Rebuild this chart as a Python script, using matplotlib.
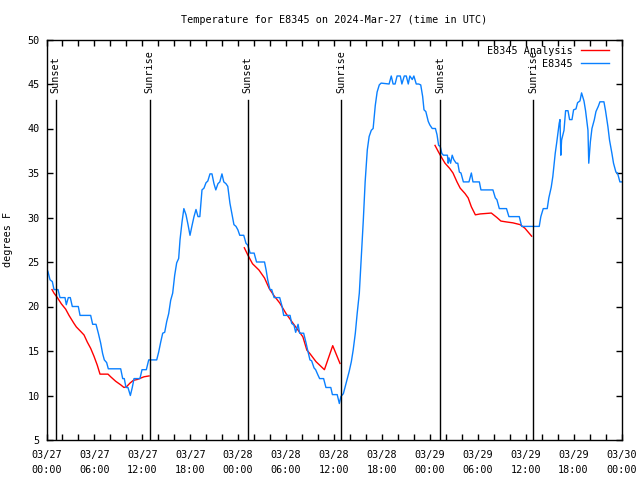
import numpy as np
import matplotlib
matplotlib.use("Agg")
import matplotlib.pyplot as plt

# Observed temperature for E8345 (hours since 2024-03-27 00:00 UTC, deg F)
obs_hours = [0.0, 0.19, 0.44, 0.73, 0.94, 1.44, 1.69, 2.32, 2.48, 2.73, 2.98, 3.23, 3.98, 4.2,
             5.53, 5.78, 6.2, 6.49, 6.78, 7.03, 7.24, 7.53, 7.74, 9.29, 9.54, 9.74, 9.95, 10.2,
             10.5, 10.74, 10.96, 11.7, 11.96, 12.5, 12.8, 13.8, 14.05, 14.3, 14.55, 14.8, 15.05,
             15.3, 15.55, 15.8, 16.05, 16.3, 16.55, 16.72, 16.97, 17.2, 17.47, 17.72, 17.97,
             18.2, 18.47, 18.72, 18.97, 19.2, 19.47, 19.72, 19.97, 20.2, 20.47, 20.72, 20.97,
             21.2, 21.47, 21.7, 21.97, 22.2, 22.47, 22.7, 22.97, 23.2, 23.47, 23.73, 23.97,
             24.2, 24.7, 24.98, 25.2, 25.5, 26.0, 26.3, 27.3, 27.5, 27.7, 27.98, 28.2, 28.5,
             29.2, 29.5, 29.7, 30.5, 30.7, 30.99, 31.2, 31.5, 31.7, 32.2, 32.5, 32.7, 32.99,
             33.2, 33.5, 33.7, 33.99, 34.2, 34.7, 34.99, 35.6, 35.8, 36.4, 36.67, 36.87, 37.17,
             37.4, 37.67, 37.9, 38.17, 38.4, 38.67, 38.9, 39.17, 39.4, 39.67, 39.9, 40.17,
             40.4, 40.67, 40.9, 41.17, 41.4, 41.67, 41.9, 42.9, 43.17, 43.4, 43.65, 43.9, 44.3,
             44.5, 44.8, 45.05, 45.3, 45.5, 45.8, 46.0, 46.3, 46.6, 46.86, 47.1, 47.27, 47.5,
             47.8, 48.0, 48.3, 48.7, 48.9, 49.1, 49.3, 49.5, 49.7, 50.2, 50.3, 50.4, 50.6,
             50.8, 51.0, 51.3, 51.5, 51.7, 51.9, 52.2, 52.9, 53.2, 53.4, 54.2, 54.4, 55.9,
             56.2, 56.4, 56.7, 57.6, 57.9, 59.2, 59.5, 61.7, 61.9, 62.2, 62.7, 62.9, 63.2,
             63.4, 63.7, 63.9, 64.2, 64.3, 64.4, 64.5, 64.8, 65.0, 65.3, 65.5, 65.8, 66.0,
             66.3, 66.5, 66.8, 67.0, 67.3, 67.5, 67.8, 67.9, 68.1, 68.3, 68.6, 68.8, 69.1,
             69.3, 69.8, 70.0, 70.3, 70.5, 70.8, 71.0, 71.3, 71.5, 71.8, 72.0]
obs_temp = [24.3, 23.9, 23.0, 22.8, 21.9, 21.9, 21.0, 21.0, 20.2, 21.0, 21.0, 20.0, 20.0, 19.0,
            19.0, 18.0, 18.0, 17.0, 15.9, 14.7, 14.0, 13.7, 13.0, 13.0, 11.9, 11.9, 10.9, 10.9,
            10.0, 10.9, 11.9, 11.9, 12.9, 12.9, 14.0, 14.0, 14.9, 16.0, 17.0, 17.1, 18.3,
            19.2, 20.7, 21.5, 23.5, 24.9, 25.4, 27.5, 29.5, 31.0, 30.3, 29.2, 28.0,
            29.0, 30.1, 30.9, 30.1, 30.1, 33.1, 33.3, 33.9, 34.1, 34.9, 34.9, 33.8,
            33.1, 33.8, 34.0, 34.9, 34.0, 33.8, 33.5, 31.6, 30.5, 29.2, 29.0, 28.6,
            28.0, 28.0, 27.1, 26.9, 26.0, 26.0, 25.0, 25.0, 24.1, 23.0, 21.9, 21.9, 21.0,
            21.0, 20.0, 19.0, 19.0, 18.1, 17.9, 17.1, 18.0, 17.0, 17.0, 15.9, 15.1, 14.0,
            13.9, 13.1, 12.9, 12.3, 11.9, 11.9, 10.9, 10.9, 10.1, 10.1, 9.1, 9.9, 10.2,
            11.0, 11.9, 12.7, 13.8, 15.1, 17.0, 19.2, 21.5, 25.2, 29.7, 34.0, 37.6,
            39.1, 39.8, 40.0, 42.6, 44.1, 44.9, 45.1, 45.0, 45.9, 45.0, 45.0, 45.9, 45.9,
            45.0, 45.9, 45.9, 45.0, 45.9, 45.5, 45.9, 45.0, 45.0, 44.9, 43.6, 42.1, 41.9,
            40.8, 40.4, 40.0, 40.0, 39.3, 38.1, 38.0, 37.2, 37.0, 37.0, 36.1, 36.7, 36.1,
            37.0, 36.5, 36.1, 36.1, 35.1, 35.0, 34.0, 34.0, 35.0, 34.0, 34.0, 33.1, 33.1,
            32.2, 32.0, 31.0, 31.0, 30.1, 30.1, 29.0, 29.0, 30.1, 31.0, 31.0, 32.2, 33.4,
            34.6, 37.2, 38.5, 40.6, 41.0, 37.0, 38.7, 39.8, 42.0, 42.0, 41.0, 41.0, 42.1,
            42.2, 42.9, 43.1, 44.0, 43.1, 42.0, 39.8, 36.1, 38.5, 40.0, 41.0, 41.9, 42.5,
            43.0, 43.0, 42.0, 40.2, 38.7, 37.2, 36.1, 35.1, 35.0, 34.0, 34.0]

# Analysis temperature, three overnight segments
ana1_hours = [0.69, 0.94, 1.36, 1.86, 2.4, 2.82, 3.44, 3.74, 4.28, 4.7, 5.11, 5.53, 5.95, 6.36,
              6.7, 7.7, 8.04, 8.66, 9.29, 9.7, 10.04, 10.46, 10.87, 11.37, 12.2, 12.84]
ana1_temp = [21.9, 21.5, 21.0, 20.3, 19.7, 19.0, 18.1, 17.7, 17.2, 16.8, 16.0, 15.3, 14.4, 13.4,
             12.4, 12.4, 12.1, 11.6, 11.2, 10.9, 11.0, 11.4, 11.7, 11.8, 12.1, 12.2]
ana2_hours = [24.77, 25.2, 25.8, 26.6, 27.3, 27.9, 28.5, 29.2, 30.0, 30.8, 31.45, 32.1, 32.6,
              32.99, 33.75, 34.8, 35.84, 36.75]
ana2_temp = [26.6, 25.8, 24.8, 24.1, 23.2, 22.0, 21.2, 20.4, 19.2, 18.2, 17.4, 16.6, 15.1,
             14.7, 13.8, 12.9, 15.6, 13.6]
ana3_hours = [48.65, 49.06, 49.5, 49.9, 50.5, 50.9, 51.4, 51.8, 52.4, 52.8, 53.2, 53.7, 54.3,
              55.7, 56.4, 56.9, 57.6, 58.4, 59.3, 59.9, 60.75]
ana3_temp = [38.1, 37.4, 36.7, 36.1, 35.5, 35.0, 34.0, 33.3, 32.7, 32.2, 31.2, 30.3, 30.4,
             30.5, 30.0, 29.6, 29.5, 29.4, 29.2, 28.8, 27.9]

# Sunrise / sunset markers
event_hours = [1.17, 12.93, 25.2, 36.88, 49.3, 60.93]
event_labels = ["Sunset", "Sunrise", "Sunset", "Sunrise", "Sunset", "Sunrise"]

tick_hours = list(range(0, 73, 6))
tick_labels = ["03/27\n00:00", "03/27\n06:00", "03/27\n12:00", "03/27\n18:00",
               "03/28\n00:00", "03/28\n06:00", "03/28\n12:00", "03/28\n18:00",
               "03/29\n00:00", "03/29\n06:00", "03/29\n12:00", "03/29\n18:00",
               "03/30\n00:00"]

plt.rcParams['font.family'] = ['DejaVu Sans Mono']
fs = 7.3

fig = plt.figure(figsize=(6.4, 4.8), dpi=100)
ax = fig.add_axes([46.5 / 640, 40 / 480, 575 / 640, 400.5 / 480])

ax.plot(ana1_hours, ana1_temp, color='#ff0000', lw=1.0, label='E8345 Analysis')
ax.plot(ana2_hours, ana2_temp, color='#ff0000', lw=1.0)
ax.plot(ana3_hours, ana3_temp, color='#ff0000', lw=1.0)
ax.plot(obs_hours, obs_temp, color='#0a80ff', lw=1.0, label='E8345')

for h, lab in zip(event_hours, event_labels):
    ax.plot([h, h], [5, 43.2], color='black', lw=1.0)
    ax.text(h, 44.0, lab, rotation=90, ha='center', va='bottom', fontsize=fs)

ax.set_xlim(0, 72)
ax.set_ylim(5, 50)
ax.set_xticks(tick_hours)
ax.set_xticklabels(tick_labels, fontsize=fs, linespacing=1.6)
ax.set_xticks(np.arange(0, 73, 2), minor=True)
ax.set_yticks(np.arange(5, 51, 5))
ax.tick_params(axis='both', which='both', direction='in', top=True, right=True,
               length=4, width=1, labelsize=fs)
ax.tick_params(axis='x', pad=7)
ax.tick_params(axis='y', pad=5)
for s in ax.spines.values():
    s.set_linewidth(1.0)

ax.set_title("Temperature for E8345 on 2024-Mar-27 (time in UTC)", fontsize=fs, pad=12)
ax.set_ylabel("degrees F", fontsize=fs)
ax.yaxis.set_label_coords(-0.058, 0.5)

ax.legend(loc='upper right', bbox_to_anchor=(1 - 10 / 575, 1 - 4 / 400.5),
          markerfirst=False, frameon=False, fontsize=fs,
          handlelength=2.8, handletextpad=0.8, labelspacing=0.3,
          borderaxespad=0.0, borderpad=0.2)

fig.savefig("out.png", dpi=100)
